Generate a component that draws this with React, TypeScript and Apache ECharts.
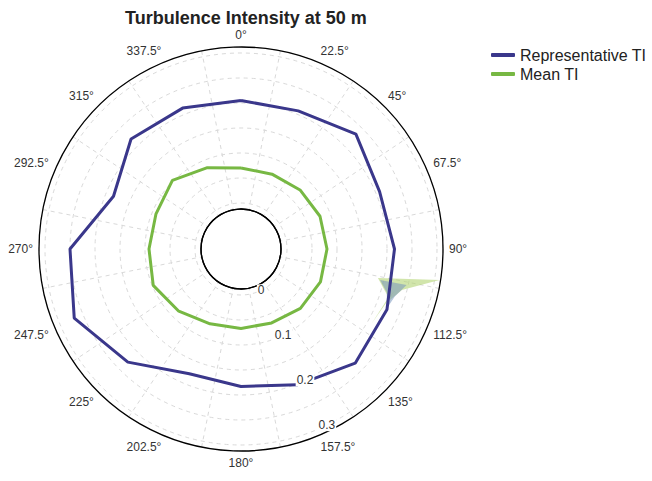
import { useEffect, useRef } from 'react';
import * as echarts from 'echarts';

// ---- data ----
const directionLabels = ['0°', '22.5°', '45°', '67.5°', '90°', '112.5°', '135°', '157.5°', '180°', '202.5°', '225°', '247.5°', '270°', '292.5°', '315°', '337.5°'];
const directionDegrees = [0, 22.5, 45, 67.5, 90, 112.5, 135, 157.5, 180, 202.5, 225, 247.5, 270, 292.5, 315, 337.5];
const representativeTI = [0.205, 0.207, 0.233, 0.208, 0.215, 0.224, 0.231, 0.202, 0.183, 0.178, 0.228, 0.269, 0.25, 0.184, 0.219, 0.213];
const meanTI = [0.07, 0.07, 0.075, 0.079, 0.08, 0.08, 0.076, 0.068, 0.067, 0.07, 0.084, 0.098, 0.092, 0.092, 0.102, 0.084];
const radialTickLabels = ['0', '0.1', '0.2', '0.3'];

// small spiky shaded areas near 100-120 degrees
const spikeGreenAngles = [102.0, 98.9, 104.3, 108.9, 105.5];
const spikeGreenValues = [0.188, 0.31, 0.24, 0.223, 0.204];
const spikeGreenLowAngles = [104.9, 109.3, 119.6];
const spikeGreenLowValues = [0.227, 0.217, 0.209];
const spikeBlueAngles = [102.6, 102.3, 107.2, 112.1, 106.5];
const spikeBlueValues = [0.193, 0.247, 0.23, 0.223, 0.212];

const FONT = '"Liberation Sans", Arial, sans-serif';
const CENTER = [241, 249];
const RADIUS = [40, 202];
const R_MIN = -0.012;
const R_MAX = 0.312;

const closeLoop = (vals: number[]) => {
  const pts = directionDegrees.map((d, i) => [vals[i], d]);
  pts.push([vals[0], 360]);
  return pts;
};

const spikes = [
  { angles: spikeGreenAngles, values: spikeGreenValues, color: 'rgba(178,212,115,0.6)' },
  { angles: spikeGreenLowAngles, values: spikeGreenLowValues, color: 'rgba(178,212,115,0.65)' },
  { angles: spikeBlueAngles, values: spikeBlueValues, color: 'rgba(120,150,190,0.55)' },
];

export default function App() {
  const ref = useRef<HTMLDivElement>(null);
  useEffect(() => {
    if (!ref.current) return;
    const chart = echarts.init(ref.current, undefined, { renderer: 'svg' });
    const option: any = {
      animation: false,
      backgroundColor: '#fff',
      textStyle: { fontFamily: FONT },
      title: {
        text: 'Turbulence Intensity at 50 m',
        left: 120,
        top: 4,
        textStyle: { fontSize: 18, fontWeight: 'bold', color: '#222', fontFamily: FONT },
      },
      legend: {
        data: ['Representative TI', 'Mean TI'],
        orient: 'vertical',
        left: 486,
        top: 42,
        icon: 'roundRect',
        itemWidth: 24,
        itemHeight: 4,
        itemGap: 3,
        selectedMode: false,
        textStyle: { fontSize: 16, color: '#222', fontFamily: FONT },
      },
      polar: [
        { center: CENTER, radius: RADIUS },
        { center: CENTER, radius: RADIUS },
        { center: CENTER, radius: [0, RADIUS[0]] },
        { center: CENTER, radius: RADIUS },
      ],
      angleAxis: [
        {
          polarIndex: 0,
          type: 'category',
          data: directionLabels,
          boundaryGap: true,
          startAngle: 101.25,
          clockwise: true,
          axisLine: { show: true, lineStyle: { color: '#000', width: 1.3 } },
          axisTick: { show: false },
          axisLabel: { margin: 6, color: '#333', fontSize: 12, fontFamily: FONT },
          splitLine: { show: true, lineStyle: { color: '#d9d9d9', type: [4, 4], width: 1 } },
        },
        { polarIndex: 1, type: 'value', min: 0, max: 360, startAngle: 90, clockwise: true, show: false },
        {
          polarIndex: 2,
          type: 'value',
          min: 0,
          max: 360,
          z: 3,
          axisLine: { show: true, lineStyle: { color: '#000', width: 1.3 } },
          axisTick: { show: false },
          axisLabel: { show: false },
          splitLine: { show: false },
        },
        { polarIndex: 3, type: 'value', min: 0, max: 360, startAngle: -64, show: false },
      ],
      radiusAxis: [
        {
          polarIndex: 0,
          type: 'value',
          min: R_MIN,
          max: R_MAX,
          minInterval: 0.05,
          maxInterval: 0.05,
          axisLine: { show: false },
          axisTick: { show: false },
          axisLabel: { show: false },
          splitLine: { show: true, lineStyle: { color: '#d9d9d9', type: [4, 4], width: 1 } },
        },
        { polarIndex: 1, type: 'value', min: R_MIN, max: R_MAX, show: false },
        { polarIndex: 2, type: 'value', min: 0, max: 1, show: false },
        {
          polarIndex: 3,
          type: 'value',
          min: R_MIN,
          max: R_MAX,
          minInterval: 0.05,
          maxInterval: 0.05,
          z: 10,
          axisLine: { show: false },
          axisTick: { show: false },
          splitLine: { show: false },
          axisLabel: {
            margin: 0,
            align: 'center',
            verticalAlign: 'middle',
            color: '#333',
            fontSize: 12,
            fontFamily: FONT,
            backgroundColor: '#fff',
            padding: [0, 1],
            formatter: (v: number) => {
              const lab = radialTickLabels.find((t) => Math.abs(Number(t) - v) < 1e-6);
              return lab ?? '';
            },
          },
        },
      ],
      series: [
        {
          type: 'custom',
          coordinateSystem: 'polar',
          polarIndex: 1,
          z: 1,
          silent: true,
          data: spikes.map((s) => [s.values[0], s.angles[0]]),
          renderItem: (params: any, api: any) => {
            const s = spikes[params.dataIndex];
            const points = s.angles.map((a, i) => {
              const c = api.coord([s.values[i], a]);
              return [c[0], c[1]];
            });
            return { type: 'polygon', shape: { points }, style: { fill: s.color, stroke: 'none' } };
          },
        },
        {
          name: 'Representative TI',
          type: 'line',
          coordinateSystem: 'polar',
          polarIndex: 1,
          z: 2,
          data: closeLoop(representativeTI),
          showSymbol: false,
          symbol: 'none',
          color: '#3a378b',
          lineStyle: { color: '#3a378b', width: 3 },
        },
        {
          name: 'Mean TI',
          type: 'line',
          coordinateSystem: 'polar',
          polarIndex: 1,
          z: 2,
          data: closeLoop(meanTI),
          showSymbol: false,
          symbol: 'none',
          color: '#77b843',
          lineStyle: { color: '#77b843', width: 3 },
        },
      ],
    };
    chart.setOption(option);
    return () => chart.dispose();
  }, []);
  return <div ref={ref} style={{ position: 'fixed', left: 0, top: 0, width: 652, height: 481 }} />;
}
